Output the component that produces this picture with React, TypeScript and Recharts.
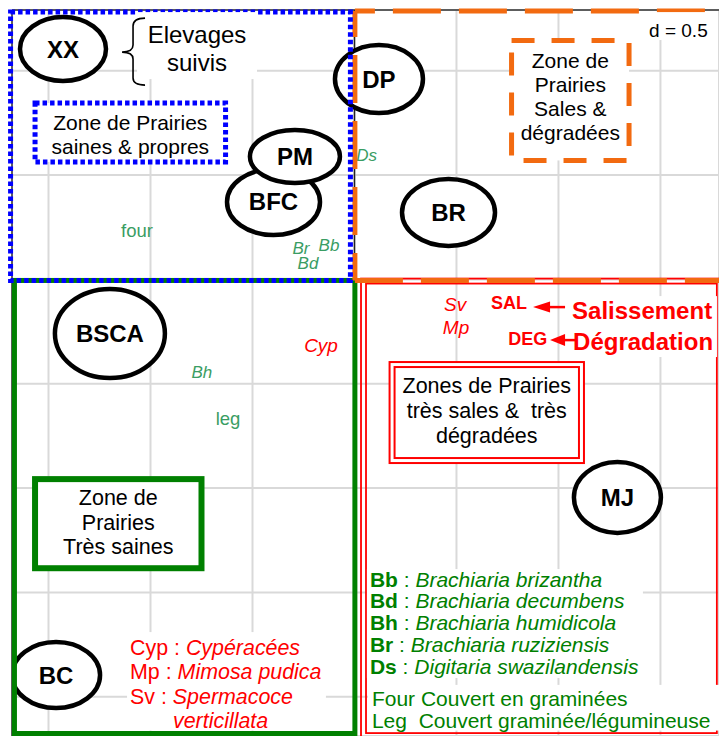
import React from "react";
import {
  ScatterChart,
  Scatter,
  XAxis,
  YAxis,
  CartesianGrid,
  ReferenceArea,
  ReferenceLine,
} from "recharts";

const FONT = "Arial, 'Liberation Sans', Helvetica, sans-serif";
const BLUE = "#0000ff";
const ORANGE = "#f26a10";
const GREEN = "#008000";
const RED = "#ff0000";
const LIGHT_GREEN = "#3a9d63";

// factorial plane, one grid cell = d 0.5
const X_DOMAIN = [-1.679, 1.787];
const Y_DOMAIN = [-2.188, 1.291];
const X_TICKS = [-1.5, -1, -0.5, 0, 0.5, 1, 1.5];
const Y_TICKS = [-2, -1.5, -1, -0.5, 0, 0.5, 1];

// elevages (farms)
const SITE_NAMES = ["XX", "DP", "BFC", "PM", "BR", "BSCA", "BC", "MJ"];
const SITE_X = [-1.429, 0.12, -0.397, -0.292, 0.461, -1.199, -1.463, 1.289];
const SITE_Y = [1.104, 0.96, 0.371, 0.589, 0.321, -0.259, -1.896, -1.045];

// variables
const VAR_NAMES = ["Ds", "Br", "Bb", "Bd", "Bh", "four", "leg", "Cyp", "Sv", "Mp", "SAL", "DEG"];
const VAR_KIND = ["sp", "sp", "sp", "sp", "sp", "cov", "cov", "weed", "weed", "weed", "idx", "idx"];
const VAR_X = [0.059, -0.262, -0.125, -0.228, -0.748, -1.066, -0.62, -0.164, 0.493, 0.498, 0.757, 0.85];
const VAR_Y = [0.596, 0.152, 0.165, 0.077, -0.444, 0.237, -0.664, -0.314, -0.118, -0.228, -0.113, -0.281];

// legends
const GRASS_ABBR = ["Bb", "Bd", "Bh", "Br", "Ds"];
const GRASS_NAMES = [
  "Brachiaria brizantha",
  "Brachiaria decumbens",
  "Brachiaria humidicola",
  "Brachiaria ruziziensis",
  "Digitaria swazilandensis",
];
const WEED_ABBR = ["Cyp", "Mp", "Sv"];
const WEED_NAMES = ["Cypéracées", "Mimosa pudica", "Spermacoce"];

// ellipse size per farm label
const SITE_RADII: Record<string, [number, number]> = {
  XX: [43, 32],
  DP: [44, 34],
  PM: [45, 26.5],
  BFC: [46.5, 33],
  BR: [46.5, 33.5],
  BSCA: [55, 44.5],
  BC: [44, 33],
  MJ: [43.5, 35.5],
};

const KIND_STYLE: Record<string, any> = {
  sp: { fill: LIGHT_GREEN, fontStyle: "italic", fontWeight: "normal", fontSize: 17 },
  cov: { fill: LIGHT_GREEN, fontStyle: "normal", fontWeight: "normal", fontSize: 18.5 },
  weed: { fill: RED, fontStyle: "italic", fontWeight: "normal", fontSize: 19 },
  idx: { fill: RED, fontStyle: "normal", fontWeight: "bold", fontSize: 18 },
};

const SiteShape = (p: any) => {
  const { cx, cy, payload } = p;
  const [rx, ry] = SITE_RADII[payload.name] || [44, 33];
  return (
    <g>
      <ellipse cx={cx} cy={cy} rx={rx} ry={ry} fill="#fff" stroke="#000" strokeWidth={4.5} />
      <text
        x={cx}
        y={cy + 8.5}
        textAnchor="middle"
        fontFamily={FONT}
        fontWeight="bold"
        fontSize={24}
        fill="#000"
      >
        {payload.name}
      </text>
    </g>
  );
};

const VarShape = (p: any) => {
  const { cx, cy, payload } = p;
  const s = KIND_STYLE[payload.kind];
  return (
    <text
      x={cx}
      y={cy + s.fontSize * 0.36}
      textAnchor="middle"
      fontFamily={FONT}
      fontSize={s.fontSize}
      fontStyle={s.fontStyle}
      fontWeight={s.fontWeight}
      fill={s.fill}
    >
      {payload.name}
    </text>
  );
};

type BoxOpts = {
  stroke?: string;
  strokeWidth?: number;
  dash?: string;
  inset?: number;
  fill?: string;
  lines?: string[];
  fontSize?: number;
  lineHeight?: number;
  dy?: number;
};

const makeBox = (o: BoxOpts) => (p: any) => {
  const { x, y, width, height } = p;
  const lines = o.lines || [];
  const fs = o.fontSize || 20;
  const lh = o.lineHeight || 24;
  const mid = y + height / 2 + (o.dy || 0);
  const first = mid - ((lines.length - 1) * lh) / 2;
  return (
    <g>
      <rect
        x={x}
        y={y}
        width={width}
        height={height}
        fill={o.fill || "none"}
        stroke={o.stroke || "none"}
        strokeWidth={o.strokeWidth || 0}
        strokeDasharray={o.dash}
      />
      {o.inset ? (
        <rect
          x={x + o.inset}
          y={y + o.inset}
          width={width - 2 * o.inset}
          height={height - 2 * o.inset}
          fill="none"
          stroke={o.stroke}
          strokeWidth={o.strokeWidth}
        />
      ) : null}
      {lines.map((t, i) => (
        <text
          key={i}
          x={x + width / 2}
          y={first + i * lh + fs * 0.36}
          textAnchor="middle"
          fontFamily={FONT}
          fontSize={fs}
          fill="#000"
          style={{ whiteSpace: "pre" }}
        >
          {t}
        </text>
      ))}
    </g>
  );
};

const orangeFrame = (p: any) => {
  const { x, y, width, height } = p;
  const c = { stroke: ORANGE, strokeWidth: 5, strokeDasharray: "48 18" };
  return (
    <g>
      <line x1={x} y1={y} x2={x + width} y2={y} {...c} strokeDashoffset={28} />
      <line x1={x} y1={y} x2={x} y2={y + height} {...c} strokeDashoffset={22} />
      <line x1={x} y1={y + height} x2={x + width} y2={y + height} {...c} />
    </g>
  );
};

const elevagesKey = (p: any) => {
  const { x, y, width, height } = p;
  const L = x;
  const T = y;
  const brace = `M ${L + 8} ${T + 6} Q ${L - 4} ${T + 6} ${L - 4} ${T + 14} L ${L - 4} ${T + 33}
    Q ${L - 4} ${T + 40} ${L - 15} ${T + 40} Q ${L - 4} ${T + 40} ${L - 4} ${T + 47}
    L ${L - 4} ${T + 66} Q ${L - 4} ${T + 73} ${L + 8} ${T + 73}`;
  return (
    <g>
      <rect x={x} y={y} width={width} height={height} fill="#fff" />
      <path d={brace} fill="none" stroke="#000" strokeWidth={1.6} />
      {["Elevages", "suivis"].map((t, i) => (
        <text
          key={t}
          x={x + width / 2}
          y={y + 30.5 + i * 28}
          textAnchor="middle"
          fontFamily={FONT}
          fontSize={24}
          fill="#000"
        >
          {t}
        </text>
      ))}
    </g>
  );
};

const grassLegend = (p: any) => {
  const { x, y, width, height } = p;
  return (
    <g>
      <rect x={x} y={y} width={width} height={height} fill="#fff" />
      {GRASS_ABBR.map((a, i) => (
        <text key={a} x={x + 3} y={y + 17.5 + i * 21.75} fontFamily={FONT} fontSize={21} fill={GREEN}>
          <tspan fontWeight="bold">{a}</tspan>
          <tspan> : </tspan>
          <tspan fontStyle="italic">{GRASS_NAMES[i]}</tspan>
        </text>
      ))}
    </g>
  );
};

const coverLegend = (p: any) => {
  const { x, y, width, height } = p;
  return (
    <g>
      <rect x={x} y={y} width={width} height={height} fill="#fff" />
      <text x={x + 4} y={y + 21.5} fontFamily={FONT} fontSize={21} fill={GREEN}>
        Four Couvert en graminées
      </text>
      <text x={x + 4} y={y + 43} fontFamily={FONT} fontSize={21} fill={GREEN} style={{ whiteSpace: "pre" }}>
        {"Leg  Couvert graminée/légumineuse"}
      </text>
    </g>
  );
};

const weedLegend = (p: any) => {
  const { x, y, width, height } = p;
  return (
    <g>
      <rect x={x} y={y} width={width} height={height} fill="#fff" />
      {WEED_ABBR.map((a, i) => (
        <text key={a} x={x + 3} y={y + 23 + i * 24.3} fontFamily={FONT} fontSize={21.4} fill={RED}>
          <tspan>{a} : </tspan>
          <tspan fontStyle="italic">{WEED_NAMES[i]}</tspan>
        </text>
      ))}
      <text x={x + 46} y={y + 23 + 3 * 24.3} fontFamily={FONT} fontSize={21.4} fill={RED} fontStyle="italic">
        verticillata
      </text>
    </g>
  );
};

const trendNote = (p: any) => {
  const { x, y, width, height } = p;
  const L = x;
  const T = y;
  return (
    <g>
      <rect x={x} y={y} width={width} height={height} fill="#fff" />
      <line x1={L - 20} y1={T + 11} x2={L - 3} y2={T + 11} stroke={RED} strokeWidth={2.5} />
      <polygon points={`${L - 35},${T + 11} ${L - 18},${T + 5.5} ${L - 18},${T + 16.5}`} fill={RED} />
      <line x1={L - 5} y1={T + 44} x2={L + 7} y2={T + 44} stroke={RED} strokeWidth={2.5} />
      <polygon points={`${L - 18},${T + 44} ${L - 3},${T + 38} ${L - 3},${T + 50}`} fill={RED} />
      <text x={L + 4} y={T + 23} fontFamily={FONT} fontSize={24} fontWeight="bold" fill={RED}>
        Salissement
      </text>
      <text x={L + 5} y={T + 54} fontFamily={FONT} fontSize={24} fontWeight="bold" fill={RED}>
        Dégradation
      </text>
    </g>
  );
};

const App = () => {
  const sites = SITE_NAMES.map((name, i) => ({ name, x: SITE_X[i], y: SITE_Y[i] }));
  const vars = VAR_NAMES.map((name, i) => ({ name, kind: VAR_KIND[i], x: VAR_X[i], y: VAR_Y[i] }));

  return (
    <div style={{ position: "absolute", left: 0, top: 0, width: 719, height: 736, background: "#fff" }}>
      <ScatterChart width={719} height={736} margin={{ top: 10, right: 0, bottom: 0, left: 12 }}>
        <CartesianGrid stroke="#d9d9d9" strokeWidth={2} />
        <XAxis type="number" dataKey="x" domain={X_DOMAIN} ticks={X_TICKS} hide allowDataOverflow />
        <YAxis type="number" dataKey="y" domain={Y_DOMAIN} ticks={Y_TICKS} hide allowDataOverflow />

        <ReferenceLine y={Y_DOMAIN[1]} stroke="#333" strokeWidth={1.5} ifOverflow="visible" zIndex={1} />
        <ReferenceLine x={X_DOMAIN[0]} stroke="#333" strokeWidth={1.5} ifOverflow="visible" zIndex={1} />
        <ReferenceLine x={0} stroke="#222" strokeWidth={1.5} ifOverflow="visible" zIndex={1} />

        <Scatter data={sites} shape={SiteShape} isAnimationActive={false} zIndex={10} />
        <Scatter data={vars} shape={VarShape} isAnimationActive={false} zIndex={20} />

        {/* quadrant zones */}
        <ReferenceArea
          x1={0.032} x2={1.801} y1={0.004} y2={-2.198}
          ifOverflow="visible" zIndex={30}
          shape={makeBox({ stroke: RED, strokeWidth: 1.8, inset: 5 })}
        />
        <ReferenceArea
          x1={-1.667} x2={0.002} y1={-0.005} y2={-2.176}
          ifOverflow="visible" zIndex={31}
          shape={makeBox({ stroke: GREEN, strokeWidth: 5 })}
        />
        <ReferenceArea
          x1={0.002} x2={1.84} y1={1.286} y2={-0.005}
          ifOverflow="visible" zIndex={32}
          shape={orangeFrame}
        />
        <ReferenceArea
          x1={-1.686} x2={-0.02} y1={1.281} y2={-0.005}
          ifOverflow="visible" zIndex={33}
          shape={makeBox({ stroke: BLUE, strokeWidth: 5, dash: "4.5 3" })}
        />

        {/* zone captions */}
        <ReferenceArea
          x1={-1.566} x2={-0.632} y1={0.845} y2={0.563}
          ifOverflow="visible" zIndex={40}
          shape={makeBox({
            stroke: BLUE, strokeWidth: 5, dash: "4.5 3", fill: "#fff",
            lines: ["Zone de Prairies", "saines & propres"], fontSize: 21, lineHeight: 24, dy: 1.5,
          })}
        />
        <ReferenceArea
          x1={0.77} x2={1.346} y1={1.145} y2={0.57}
          ifOverflow="visible" zIndex={40}
          shape={makeBox({
            stroke: ORANGE, strokeWidth: 5, dash: "23 17", fill: "#fff",
            lines: ["Zone de", "Prairies", "Sales &", "dégradées"], fontSize: 21, lineHeight: 24.3, dy: -4,
          })}
        />
        <ReferenceArea
          x1={-1.566} x2={-0.75} y1={-0.957} y2={-1.384}
          ifOverflow="visible" zIndex={40}
          shape={makeBox({
            stroke: GREEN, strokeWidth: 6, fill: "#fff",
            lines: ["Zone de", "Prairies", "Très saines"], fontSize: 21.5, lineHeight: 24.5, dy: -1.5,
          })}
        />
        <ReferenceArea
          x1={0.172} x2={1.125} y1={-0.396} y2={-0.88}
          ifOverflow="visible" zIndex={40}
          shape={makeBox({
            stroke: RED, strokeWidth: 2, inset: 5, fill: "#fff",
            lines: ["Zones de Prairies", "très sales &  très", "dégradées"], fontSize: 21.5, lineHeight: 25, dy: -2.5,
          })}
        />

        {/* notes and keys */}
        <ReferenceArea
          x1={-1.066} x2={-0.478} y1={1.281} y2={0.96}
          ifOverflow="visible" zIndex={41}
          shape={elevagesKey}
        />
        <ReferenceArea
          x1={1.424} x2={1.752} y1={1.281} y2={1.147}
          ifOverflow="visible" zIndex={41}
          shape={makeBox({ fill: "#fff", lines: ["d = 0.5"], fontSize: 19, dy: 4 })}
        />
        <ReferenceArea
          x1={1.047} x2={1.777} y1={-0.08} y2={-0.372}
          ifOverflow="visible" zIndex={41}
          shape={trendNote}
        />
        <ReferenceArea
          x1={0.061} x2={1.414} y1={-1.388} y2={-1.91}
          ifOverflow="visible" zIndex={41}
          shape={grassLegend}
        />
        <ReferenceArea
          x1={0.066} x2={1.787} y1={-1.943} y2={-2.162}
          ifOverflow="visible" zIndex={41}
          shape={coverLegend}
        />
        <ReferenceArea
          x1={-1.115} x2={-0.14} y1={-1.69} y2={-2.162}
          ifOverflow="visible" zIndex={41}
          shape={weedLegend}
        />
      </ScatterChart>
    </div>
  );
};

export default App;
